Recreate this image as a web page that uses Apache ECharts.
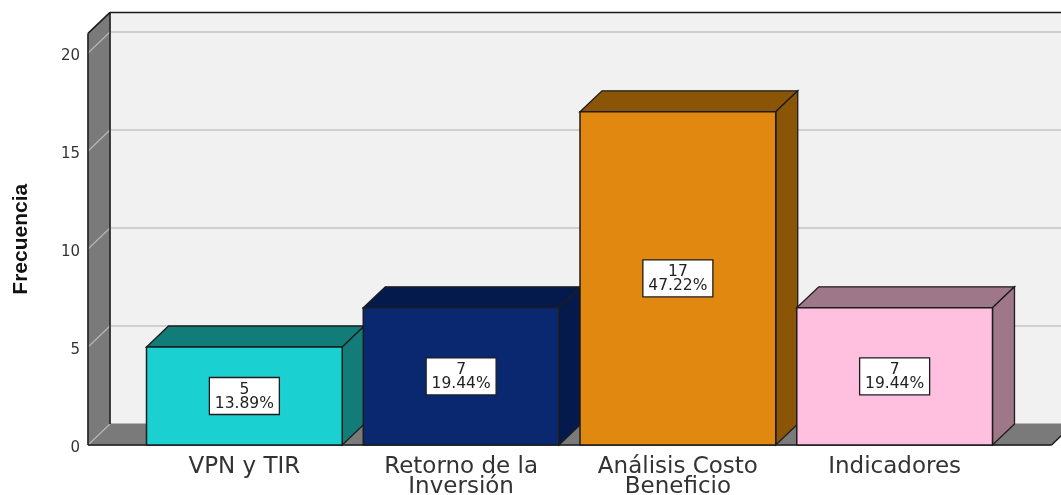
<!DOCTYPE html>
<html>
<head>
<meta charset="utf-8">
<style>html,body{margin:0;padding:0;background:#fff}#c{width:1061px;height:495px}</style>
<script src="https://cdn.jsdelivr.net/npm/echarts@6/dist/echarts.min.js"></script>
</head>
<body>
<div id="c"></div>
<script>
const categories = ['VPN y TIR', 'Retorno de la\nInversión', 'Análisis Costo\nBeneficio', 'Indicadores'];
const values = [5, 7, 17, 7];
const percents = ['13.89%', '19.44%', '47.22%', '19.44%'];
const frontColors = ['#1BD0D0', '#0A2870', '#E0880F', '#FFC0E0'];
const shadeColors = ['#127C78', '#051A4C', '#8A5507', '#9E7888'];
const yTicks = [0, 5, 10, 15, 20];
const yTitle = 'Frecuencia';

const DX = 22, DY = 21, EDGE = '#1c1c1c', FONT = '"DejaVu Sans", sans-serif';
const chart = echarts.init(document.getElementById('c'), null, {renderer: 'canvas'});

function poly(points, fill, stroke, lw) {
  return {type: 'polygon', shape: {points}, style: {fill, stroke: stroke || fill, lineWidth: lw || 1}};
}
function line(x1, y1, x2, y2, stroke, lw) {
  return {type: 'line', shape: {x1, y1, x2, y2}, style: {stroke, lineWidth: lw || 1.5}};
}

function renderFrame(params, api) {
  const cs = params.coordSys;
  const L = cs.x - 48, R = cs.x + cs.width + 48.5, T = cs.y, B = cs.y + cs.height;
  const kids = [
    poly([[L + DX, T - DY], [R + DX, T - DY], [R + DX, B - DY], [L + DX, B - DY]], '#F1F1F1'),
    poly([[L, T], [L + DX, T - DY], [L + DX, B - DY], [L, B]], '#7A7A7A'),
    poly([[L, B], [L + DX, B - DY], [R + DX, B - DY], [R, B]], '#7A7A7A')
  ];
  yTicks.forEach(t => {
    const y = api.coord([0, t])[1];
    kids.push(line(L, y, L + DX, y - DY, '#B8B8B8', 1.1));
    if (t > 0) kids.push(line(L + DX, y - DY, R + DX, y - DY, '#ADADAD', 1.2));
  });
  kids.push(
    line(L, T, L, B, EDGE), line(L + DX, T - DY, L + DX, B - DY, EDGE),
    line(L, T, L + DX, T - DY, EDGE), line(L + DX, T - DY, R + DX, T - DY, EDGE),
    line(L, B, R, B, EDGE), line(R, B, R + DX, B - DY, EDGE)
  );
  return {type: 'group', children: kids};
}

function renderBar(params, api) {
  const i = api.value(0), v = api.value(1);
  const c = api.coord([i, v]), base = api.coord([i, 0]), mid = api.coord([i, v / 2]);
  const w = api.size([1, 0])[0] * 0.903;
  const x0 = c[0] - w / 2, x1 = c[0] + w / 2, yT = c[1], yB = base[1];
  const shade = shadeColors[i];
  return {type: 'group', children: [
    poly([[x0, yT], [x0 + DX, yT - DY], [x1 + DX, yT - DY], [x1, yT]], shade, EDGE, 1.3),
    poly([[x1, yT], [x1 + DX, yT - DY], [x1 + DX, yB - DY], [x1, yB]], shade, EDGE, 1.3),
    {type: 'rect', shape: {x: x0, y: yT, width: w, height: yB - yT},
      style: {fill: frontColors[i], stroke: EDGE, lineWidth: 1.5}},
    {type: 'rect', shape: {x: mid[0] - 35, y: mid[1] - 18.5, width: 70, height: 37},
      style: {fill: '#fff', stroke: EDGE, lineWidth: 1.3}},
    {type: 'text', style: {x: mid[0], y: mid[1] + 0.5, text: v + '\n' + percents[i], align: 'center',
      verticalAlign: 'middle', font: '15.5px ' + FONT, lineHeight: 14, fill: '#222'}}
  ]};
}

chart.setOption({
  animation: false,
  tooltip: {show: false},
  grid: {left: 136, width: 867, top: 33.4, height: 411.6, outerBoundsMode: 'none'},
  xAxis: {
    type: 'category', data: categories,
    axisLine: {show: false}, axisTick: {show: false}, splitLine: {show: false},
    axisLabel: {color: '#333', fontFamily: FONT, fontSize: 23, lineHeight: 20, margin: 12, interval: 0}
  },
  yAxis: {
    type: 'value', min: 0, max: 21, interval: 5,
    axisLine: {show: false}, axisTick: {show: false}, splitLine: {show: false},
    axisLabel: {color: '#333', fontFamily: FONT, fontSize: 15, margin: 56, showMaxLabel: false,
      verticalAlign: 'top', lineHeight: 6,
      formatter: v => (yTicks.includes(v) ? String(v) : '')},
    name: yTitle, nameLocation: 'middle', nameGap: 104, nameRotate: 90,
    nameTextStyle: {color: '#111', fontFamily: '"Liberation Sans Narrow", "Liberation Sans", sans-serif', fontSize: 21, fontWeight: 'bold'}
  },
  series: [
    {type: 'custom', z: 1, clip: false, silent: true, renderItem: renderFrame, data: [[0, 0]], encode: {x: 0, y: 1}},
    {type: 'custom', z: 2, clip: false, silent: true, renderItem: renderBar,
      data: values.map((v, i) => [i, v]), encode: {x: 0, y: 1}}
  ]
});
</script>
</body>
</html>
